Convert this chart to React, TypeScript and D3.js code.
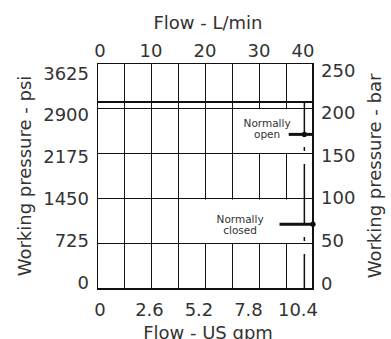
import React from 'react';
import * as d3 from 'd3';

// flow axis, L/min (top) and US gpm (bottom)
const flowTicksLmin = [0, 10, 20, 30, 40];
const flowTicksGpm = [0, 2.6, 5.2, 7.8, 10.4];
const flowGrid = [0, 5, 10, 15, 20, 25, 30, 35, 40];
// pressure axis, psi (left) and bar (right)
const psiTicks = [0, 725, 1450, 2175, 2900, 3625];
const barTicks = [0, 50, 100, 150, 200, 250];

// max working pressure and rated flow
const maxPressurePsi = 3000;
const ratedFlowLmin = 38.4;

// valve settings
const settings = [
  { name: 'open', psi: 2480, from: 35.5, dotAt: 38.4 },
  { name: 'closed', psi: 1040, from: 33.8, dotAt: 40 },
];

const W = 391;
const H = 339;
const FONT = 'DejaVu Sans, sans-serif';

export default function App() {
  const x = d3.scaleLinear().domain([0, 40]).range([97, 313]);
  const y = d3.scaleLinear().domain([0, 3625]).range([289, 63]);
  // the printed tick labels sit a little inside the grid
  const yLab = d3.scaleLinear().domain([0, 3625]).range([282, 73]);
  const yBarLab = d3.scaleLinear().domain([0, 250]).range([283, 70]);
  const xGpmLab = d3.scaleLinear().domain([0, 10.4]).range([100, 298]);
  const topLab = (v: number) => Math.min(Math.max(x(v), 100), 303);

  const [x0, x1] = x.range();
  const [yb, yt] = y.range();

  const open = settings[0];
  const closed = settings[1];

  return (
    <svg width={W} height={H} style={{ position: 'absolute', left: 0, top: 0 }} fontFamily={FONT}>
      <rect width={W} height={H} fill="#fff" />

      {/* vertical grid */}
      <g stroke="#111" strokeWidth={1} shapeRendering="crispEdges">
        {flowGrid.map(v => (
          <line key={v} x1={x(v)} x2={x(v)} y1={yt} y2={yb} />
        ))}
      </g>

      {/* label backgrounds hide the grid */}
      <rect x={x(26)} y={y(2900) + 1} width={x(37) - x(26)} height={y(2175) - y(2900) - 1} fill="#fff" />
      <rect x={x(19.5)} y={y(1450) + 1} width={x(36.5) - x(19.5)} height={y(725) - y(1450) - 1} fill="#fff" />

      {/* horizontal grid */}
      <g stroke="#111" strokeWidth={1} shapeRendering="crispEdges">
        {psiTicks.map(v => (
          <line key={v} x1={x0} x2={x1} y1={y(v)} y2={y(v)} />
        ))}
        <line x1={x0} x2={x1} y1={y(maxPressurePsi)} y2={y(maxPressurePsi)} strokeWidth={1.3} />
      </g>

      {/* frame */}
      <line x1={x0} x2={x1 + 1} y1={yb} y2={yb} stroke="#111" strokeWidth={2} />
      <line x1={x1} x2={x1} y1={yt} y2={yb + 1} stroke="#111" strokeWidth={2} />

      {/* rated flow centreline */}
      <line
        x1={x(ratedFlowLmin)}
        x2={x(ratedFlowLmin)}
        y1={y(maxPressurePsi)}
        y2={yb}
        stroke="#111"
        strokeWidth={1.5}
        strokeDasharray="60 13 4 13"
        strokeDashoffset={28}
      />

      {/* setting leaders */}
      {settings.map(s => (
        <g key={s.name}>
          <line x1={x(s.from)} x2={x(40) + 1} y1={y(s.psi)} y2={y(s.psi)} stroke="#111" strokeWidth={3} />
          <circle cx={x(s.dotAt)} cy={y(s.psi)} r={2.6} fill="#111" />
        </g>
      ))}

      <g fontSize={10.5} fill="#333" textAnchor="middle">
        <text x={x(31.5)} y={y(open.psi) - 7.5}>Normally</text>
        <text x={x(31.5)} y={y(open.psi) + 4}>open</text>
        <text x={x(26.5)} y={y(closed.psi) - 1}>Normally</text>
        <text x={x(26.5)} y={y(closed.psi) + 10}>closed</text>
      </g>

      {/* tick labels */}
      <g fontSize={18} fill="#333">
        {psiTicks.map(v => (
          <text key={v} x={89} y={yLab(v)} textAnchor="end" dominantBaseline="central">{v}</text>
        ))}
        {barTicks.map(v => (
          <text key={v} x={321} y={yBarLab(v)} textAnchor="start" dominantBaseline="central">{v}</text>
        ))}
        {flowTicksLmin.map(v => (
          <text key={v} x={topLab(v)} y={57} textAnchor="middle">{v}</text>
        ))}
        {flowTicksGpm.map(v => (
          <text key={v} x={xGpmLab(v)} y={316} textAnchor="middle">{v}</text>
        ))}
      </g>

      {/* axis titles */}
      <g fontSize={18} fill="#333" textAnchor="middle">
        <text x={208} y={29}>Flow - L/min</text>
        <text x={208} y={339}>Flow - US gpm</text>
        <text transform={`translate(31, ${(yt + yb) / 2}) rotate(-90)`}>Working pressure - psi</text>
        <text transform={`translate(381, ${(yt + yb) / 2}) rotate(-90)`}>Working pressure - bar</text>
      </g>
    </svg>
  );
}
